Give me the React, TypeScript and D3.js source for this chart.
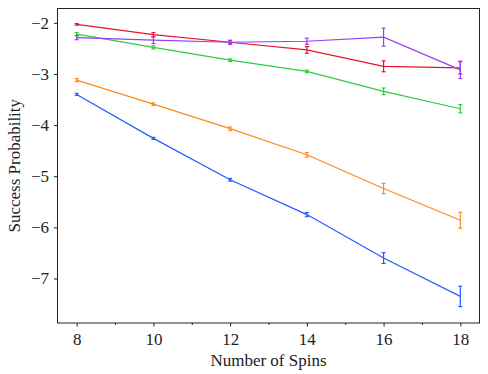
import { useEffect, useRef } from 'react';
import * as d3 from 'd3';

const spins = [8, 10, 12, 14, 16, 18];

const blueVals = [-3.40, -4.26, -5.07, -5.75, -6.60, -7.35];
const blueErr = [0.02, 0.02, 0.025, 0.04, 0.105, 0.2];
const orangeVals = [-3.12, -3.59, -4.07, -4.58, -5.24, -5.86];
const orangeErr = [0.03, 0.025, 0.035, 0.045, 0.1, 0.155];
const greenVals = [-2.22, -2.48, -2.73, -2.95, -3.34, -3.68];
const greenErr = [0.03, 0.03, 0.025, 0.025, 0.065, 0.08];
const redVals = [-2.03, -2.23, -2.38, -2.53, -2.85, -2.88];
const redErr = [0.015, 0.04, 0.03, 0.065, 0.107, 0.12];
const purpleVals = [-2.29, -2.34, -2.38, -2.36, -2.28, -2.92];
const purpleErr = [0.04, 0.065, 0.04, 0.06, 0.175, 0.17];

const series = [
  { color: '#1f5cff', vals: blueVals, err: blueErr },
  { color: '#ff8a1c', vals: orangeVals, err: orangeErr },
  { color: '#2ecc40', vals: greenVals, err: greenErr },
  { color: '#e8132b', vals: redVals, err: redErr },
  { color: '#9a3ef0', vals: purpleVals, err: purpleErr },
];

const yTicks = [-7, -6, -5, -4, -3, -2];

export default function App() {
  const svgRef = useRef<SVGSVGElement>(null);

  useEffect(() => {
    const svg = d3.select(svgRef.current);
    svg.selectAll('*').remove();

    const margin = { top: 8.5, right: 8.5, bottom: 51, left: 57.5 };
    const W = 488, H = 374;
    const width = W - margin.left - margin.right;
    const height = H - margin.top - margin.bottom;
    const font = 'Liberation Serif, serif';

    const g = svg.append('g').attr('transform', `translate(${margin.left},${margin.top})`);

    const x = d3.scaleLinear().domain([7.5, 18.5]).range([0, width]);
    const y = d3.scaleLinear().domain([-7.87, -1.72]).range([height, 0]);

    // lines + error bars
    series.forEach(s => {
      const pts = spins.map((n, i) => ({ n, v: s.vals[i], e: s.err[i] }));
      g.append('path')
        .datum(pts)
        .attr('fill', 'none')
        .attr('stroke', s.color)
        .attr('stroke-width', 1.2)
        .attr('d', d3.line<any>().x(d => x(d.n)).y(d => y(d.v)));

      const eb = g.append('g').attr('stroke', s.color).attr('stroke-width', 1.2);
      pts.forEach(d => {
        eb.append('line').attr('x1', x(d.n)).attr('x2', x(d.n))
          .attr('y1', y(d.v - d.e)).attr('y2', y(d.v + d.e));
        [d.v - d.e, d.v + d.e].forEach(v => {
          eb.append('line').attr('x1', x(d.n) - 2).attr('x2', x(d.n) + 2)
            .attr('y1', y(v)).attr('y2', y(v));
        });
      });
    });

    // frame
    g.append('rect').attr('width', width).attr('height', height)
      .attr('fill', 'none').attr('stroke', '#222').attr('stroke-width', 1);

    // x axis
    const xAxis = g.append('g').attr('transform', `translate(0,${height})`)
      .call(d3.axisBottom(x).tickValues(spins).tickSize(3.5).tickSizeOuter(0).tickPadding(6).tickFormat(d3.format('d')));
    g.append('g').attr('transform', `translate(0,${height})`)
      .call(d3.axisBottom(x).tickValues([9, 11, 13, 15, 17]).tickSize(2).tickSizeOuter(0).tickFormat(() => ''))
      .call(a => a.select('.domain').remove());
    xAxis.select('.domain').remove();

    // y axis
    const yAxis = g.append('g')
      .call(d3.axisLeft(y).tickValues(yTicks).tickSize(3.5).tickPadding(5).tickFormat(d => `−${Math.abs(+d)}`));
    yAxis.select('.domain').remove();

    svg.selectAll('g').attr('font-family', null);
    svg.selectAll('.tick text').style('font-family', font).style('font-size', '17px').attr('fill', '#222');
    svg.selectAll('.tick line').attr('stroke', '#222');

    svg.append('text')
      .attr('x', margin.left + width / 2).attr('y', H - 8)
      .attr('text-anchor', 'middle')
      .style('font-family', font).style('font-size', '17px').attr('fill', '#222')
      .text('Number of Spins');

    svg.append('text')
      .attr('transform', `translate(20,${margin.top + height / 2}) rotate(-90)`)
      .attr('text-anchor', 'middle')
      .style('font-family', font).style('font-size', '17px').attr('fill', '#222')
      .text('Success Probability');
  }, []);

  return (
    <svg ref={svgRef} width={488} height={374}
      style={{ position: 'absolute', left: 0, top: 0, background: 'white' }} />
  );
}
